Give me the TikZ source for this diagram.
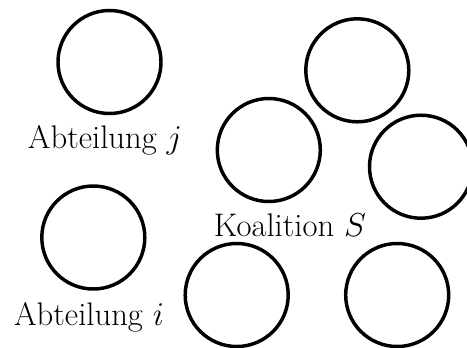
\documentclass[tikz,border=0pt]{standalone}
\begin{document}
\begin{tikzpicture}[x=0.75pt,y=-0.75pt,
  ring/.style={draw=black,circle,line width=2.6pt,minimum size=77.25pt,inner sep=0pt,outer sep=0pt},
  lbl/.style={anchor=base,inner sep=0pt,font=\fontsize{24.5}{29}\selectfont}]
\path[use as bounding box,clip] (0,0) rectangle (467,347);
\node[ring] (c1) at (109.5,62) {};
\node[ring] (c2) at (357.3,70.3) {};
\node[ring] (c3) at (268.8,150) {};
\node[ring] (c4) at (421,166.7) {};
\node[ring] (c5) at (93.3,237.5) {};
\node[ring] (c6) at (236.7,295) {};
\node[ring] (c7) at (397.2,295) {};
\node[lbl] (tj) at (105,148) {Abteilung $j$};
\node[lbl] (tS) at (290,236) {Koalition $S$};
\node[lbl] (ti) at (89,325.7) {Abteilung $i$};
\end{tikzpicture}
\end{document}
